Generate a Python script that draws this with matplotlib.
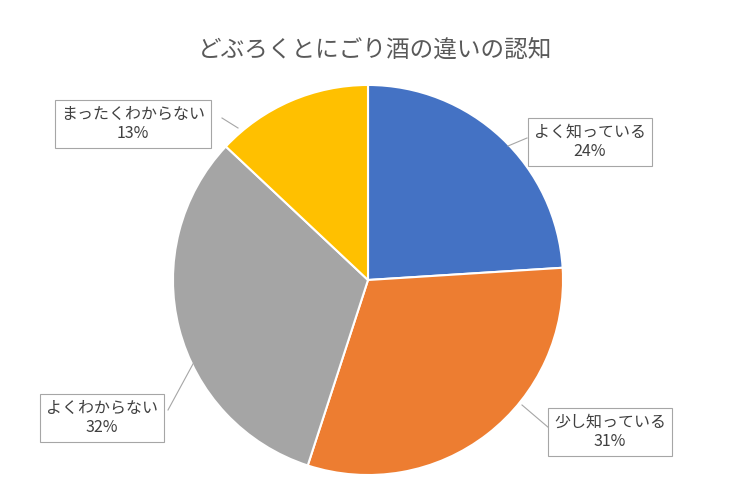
import matplotlib
matplotlib.use("Agg")
import matplotlib.pyplot as plt

categories = ["よく知っている", "少し知っている", "よくわからない", "まったくわからない"]
values = [24, 31, 32, 13]
colors = ["#4472C4", "#ED7D31", "#A5A5A5", "#FFC000"]
title = "どぶろくとにごり酒の違いの認知"

plt.rcParams["font.family"] = "Noto Sans CJK JP"
fig = plt.figure(figsize=(7.5, 5), dpi=100)
cx, cy, r = 368, 280, 196
ax = fig.add_axes([(cx - r) / 750, (500 - cy - r) / 500, 2 * r / 750, 2 * r / 500])
ax.pie(values, colors=colors, startangle=90, counterclock=False,
       wedgeprops=dict(edgecolor="white", linewidth=1.5))
ax.set_xlim(-1.005, 1.005); ax.set_ylim(-1.005, 1.005)
ax.set_aspect("equal")

ov = fig.add_axes([0, 0, 1, 1], zorder=5)
ov.set_xlim(0, 750); ov.set_ylim(500, 0); ov.axis("off"); ov.patch.set_alpha(0)
ov.text(375, 50, title, ha="center", va="center", fontsize=17, color="#595959")

label_pos = [(590, 142), (610, 432), (102, 418), (133, 124)]
lines = [((527, 138), (508, 146)), ((549, 428), (522, 405)),
         ((168, 410), (206, 340)), ((222, 118), (238, 128))]
for (x, y), c, v, ln in zip(label_pos, categories, values, lines):
    ov.plot([ln[0][0], ln[1][0]], [ln[0][1], ln[1][1]], color="#A6A6A6", lw=0.8)
    ov.text(x, y, f"{c}\n{v}%", ha="center", va="center", fontsize=11.5,
            color="#404040", linespacing=1.2,
            bbox=dict(boxstyle="square,pad=0.35", fc="white", ec="#A6A6A6", lw=0.8))

fig.savefig("out.png", dpi=100)
